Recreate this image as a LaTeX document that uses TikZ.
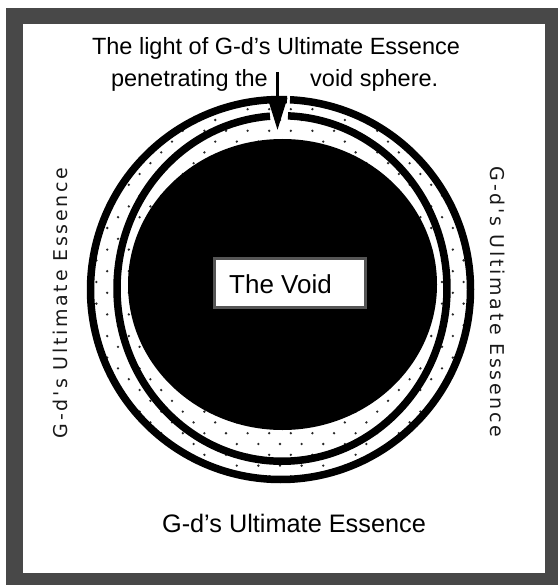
\documentclass[tikz,border=0pt]{standalone}
\usepackage{fontspec}
\setmainfont{Liberation Sans}
\newfontfamily\sidefont[LetterSpace=14]{DejaVu Sans}
\usetikzlibrary{arrows.meta}
\definecolor{framegray}{RGB}{72,72,72}
\definecolor{boxgray}{RGB}{85,85,85}
\definecolor{dotgray}{RGB}{40,40,40}
\begin{document}
\begin{tikzpicture}[x=1pt,y=-1pt,
  ring/.style={line width=7.5pt},
  toptext/.style={inner sep=0pt, anchor=base, font=\fontsize{23.5}{28}\selectfont},
  sidetext/.style={inner sep=0pt, anchor=base, text=black!90, font=\sidefont\fontsize{19}{22}\selectfont},
  voidframe/.style={draw=boxgray, line width=2.7pt, fill=white, inner sep=0pt},
  arrowline/.style={line width=3pt, -{Triangle[width=19pt,length=32pt]}}
]
\useasboundingbox (0,0) rectangle (558,585);
\fill[white] (0,0) rectangle (558,585);
\fill[framegray] (6,8) rectangle (558,585);
\fill[white] (23,24) rectangle (545,573);

% dotted bands
\begin{scope}
  \clip (280.5,289.5) circle[radius=190];
  \foreach \j in {0,...,38}{
    \foreach \i in {0,...,20}{
      \pgfmathsetmacro\dx{64+\i*21.6+mod(\j+1,2)*10.8}
      \pgfmathsetmacro\dy{87.6+\j*10.8}
      \fill[dotgray] (\dx,\dy) circle[radius=1.3];
    }}
\end{scope}

% rings
\draw[ring] ([shift={(280.5,289.5)}]272.87:190) arc[start angle=272.87, end angle=631.96, radius=190];
\draw[ring] ([shift={(282,288.5)}]272.08:165 and 172.75) arc[start angle=272.08, end angle=625.83, x radius=165, y radius=172.75];

% the void disk
\fill[black] (282.5,284.5) ellipse[x radius=154.5, y radius=145.5];

% label box
\node (voidbox) [voidframe, minimum width=151.3pt, minimum height=49.3pt] at (290,283) {};
\node (voidlabel) [inner sep=0pt, anchor=base west, font=\fontsize{26}{30}\selectfont] at (229,293) {The Void};

% arrow
\coordinate (arrowtail) at (277.5,72);
\coordinate (arrowtip) at (277.5,130);
\draw[arrowline] (arrowtail) -- (arrowtip);

% texts
\node (topline1) [toptext] at (276,55) {The light of G-d’s Ultimate Essence};
\node (topline2a) [toptext, anchor=base east] at (268,87) {penetrating the};
\node (topline2b) [toptext, anchor=base west] at (310,87) {void sphere.};
\node (bottomtext) [inner sep=0pt, anchor=base, font=\fontsize{25.3}{30}\selectfont] at (294,532) {G-d’s Ultimate Essence};
\node (lefttext) [sidetext, rotate=90] at (67,303) {G-d's Ultimate Essence};
\node (righttext) [sidetext, rotate=-90] at (490,302) {G-d's Ultimate Essence};
\end{tikzpicture}
\end{document}
